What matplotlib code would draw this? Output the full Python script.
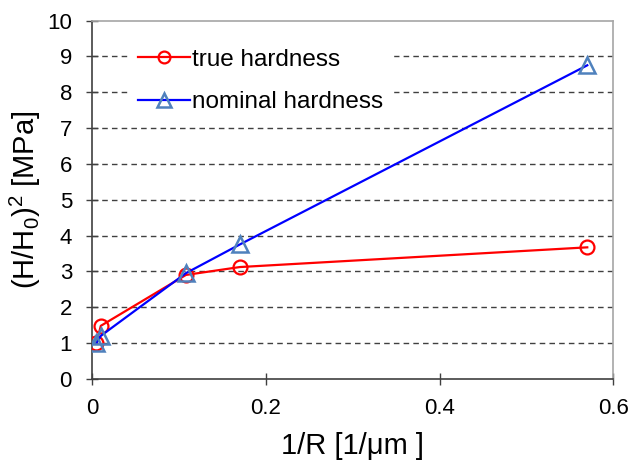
import numpy as np
import matplotlib.pyplot as plt

plt.rcParams['font.family'] = ['Liberation Sans', 'DejaVu Sans']

# inverse indenter radius [1/um]
inv_r = [0.005, 0.01, 0.108, 0.17, 0.57]
# squared normalised hardness
true_h = [1.0, 1.48, 2.9, 3.12, 3.67]
nominal_h = [1.0, 1.2, 2.95, 3.75, 8.75]

fig = plt.figure(figsize=(6.31, 4.66), dpi=100)
ax = fig.add_axes([0.146, 0.187, 0.826, 0.769])

for y in range(1, 10):
    ax.axhline(y, color='#404040', lw=1.0, ls=(0, (4, 3)), zorder=1)

ax.plot(inv_r, true_h, color='#ff0000', lw=1.6, marker='o', ms=10,
        mfc='none', mec='#ff0000', mew=1.6, label='true hardness', zorder=3)
ax.plot(inv_r, nominal_h, color='#0000ff', lw=1.6, marker='^', ms=12,
        mfc='none', mec='#4f81bd', mew=1.8, label='nominal hardness', zorder=4)

ax.set_xlim(0, 0.6)
ax.set_ylim(0, 10)
ax.set_xticks([0, 0.2, 0.4, 0.6])
ax.set_xticklabels(['0', '0.2', '0.4', '0.6'])
ax.set_yticks(range(0, 11))

for side in ['top', 'right']:
    ax.spines[side].set_color('#a6a6a6')
    ax.spines[side].set_linewidth(1.2)
for side in ['left', 'bottom']:
    ax.spines[side].set_color('#404040')
    ax.spines[side].set_linewidth(1.2)

ax.tick_params(axis='both', direction='inout', length=9, width=1.0,
               color='#404040', labelsize=16)
ax.tick_params(axis='y', pad=10)
ax.tick_params(axis='x', pad=9)

ax.set_xlabel('1/R [1/\u03bcm ]', fontsize=21, va='top')
ax.xaxis.set_label_coords(0.5, -0.148)
ax.set_ylabel('(H/H$_\\mathregular{0}$)$^\\mathregular{2}$ [MPa]', fontsize=21)
ax.yaxis.set_label_coords(-0.095, 0.5)

leg = ax.legend(loc='upper left', bbox_to_anchor=(0.069, 0.949), borderaxespad=0,
                fontsize=17.5, frameon=True, fancybox=False, framealpha=1,
                edgecolor='white', borderpad=0.4, handlelength=2.14,
                handletextpad=0.1, labelspacing=0.86, markerscale=0.85)

fig.savefig('out.png', dpi=100, facecolor='white')
